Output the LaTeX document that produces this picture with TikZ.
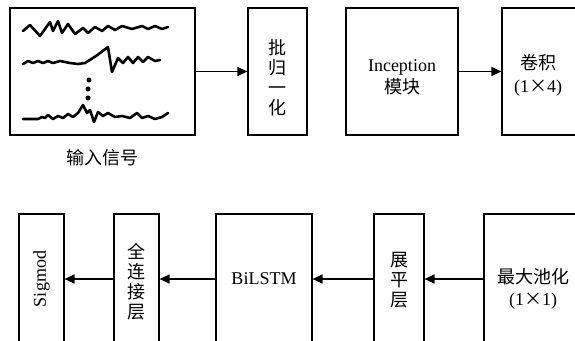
\documentclass[tikz,border=0pt]{standalone}
\usepackage{fontspec}
\setmainfont{Liberation Serif}
\newfontfamily\cjk{Noto Sans CJK SC}
\usetikzlibrary{arrows.meta,positioning}
\newcommand\gross{\fontsize{18pt}{20pt}\selectfont}
\tikzset{
  kasten/.style={draw,line width=1.2pt,inner sep=0pt},
  txt/.style={font=\gross,align=center,inner sep=0pt},
  cjktxt/.style={font=\gross\cjk,align=center,inner sep=0pt},
  welle/.style={line width=2.6pt,line join=round,line cap=round},
  pfeil/.style={line width=1.3pt,->,>={Triangle[length=10pt,width=9pt]}},
}
\begin{document}
\begin{tikzpicture}[x=1pt,y=-1pt]
\useasboundingbox (0,0) rectangle (575,340);
\clip (0,0) rectangle (575,340);

%Eingang
\node[kasten,minimum width=185pt,minimum height=127pt] (input) at (102.5,71.5) {};
\node[cjktxt,below=14pt of input] (inputlbl) {输入信号};
\draw[welle] plot[tension=0.4] coordinates {(23,31) (30,25) (40,36) (50,22) (53,31) (58,21) (62,33) (68,24) (75,34) (83,28) (88,33) (95,27) (102,31) (108,26) (115,30) (122,26) (132,29) (142,26) (148,29) (155,26) (162,29) (168,27)};
\draw[welle] plot[tension=0.4] coordinates {(23,64) (28,61) (33,63) (38,61) (43,63) (48,61) (53,63) (60,61) (70,63) (78,64) (85,63) (96,56) (108,47) (112,72) (118,58) (123,63) (128,57) (133,63) (138,57) (143,62) (148,57) (155,61) (160,60)};
\foreach \p in {(89,80),(88,89),(88,98)}{
\fill \p circle (2.5pt);
}
\draw[welle] plot[tension=0.4] coordinates {(23,119) (38,119) (42,117) (45,118) (48,115) (53,119) (58,116) (63,118) (68,114) (73,117) (78,113) (83,105) (87,113) (90,110) (94,122) (98,112) (103,116) (108,113) (115,117) (122,116) (130,118) (137,113) (142,118) (148,116) (155,119) (162,117) (168,113)};

%obere Reihe
\node[kasten,minimum width=59pt,minimum height=127pt] (bn) at (277.5,71.5) {};
\node[cjktxt] (bntxt) at ([yshift=-6pt]bn.center) {批\\归\\一\\化};
\node[kasten,minimum width=112pt,minimum height=127pt] (incep) at (402,71.5) {};
\node[txt] (inceptxt) at ([yshift=-6pt]incep.center) {Inception\\[2pt]{\cjk 模块}};
\node[kasten,minimum width=76pt,minimum height=127pt] (conv) at (540,71.5) {};
\node[txt] (convtxt) at ([xshift=-2pt,yshift=-4pt]conv.center) {{\cjk 卷积}\\[3pt](1{\cjk ×}4)};

\draw[pfeil] (input) -- (bn);
\draw[pfeil] (incep) -- (conv);

%untere Reihe
\node[kasten,minimum width=45pt,minimum height=130pt] (sig) at (41.5,279) {};
\node[txt,rotate=90] (sigtxt) at (sig.center) {Sigmod};
\node[kasten,minimum width=45pt,minimum height=130pt] (fc) at (136.5,279) {};
\node[cjktxt] (fctxt) at ([yshift=-3pt]fc.center) {全\\连\\接\\层};
\node[kasten,minimum width=96pt,minimum height=130pt] (bilstm) at (264,279) {};
\node[txt] (bilstmtxt) at (bilstm.center) {BiLSTM};
\node[kasten,minimum width=50pt,minimum height=130pt] (flat) at (399,279) {};
\node[cjktxt] (flattxt) at ([yshift=-1pt]flat.center) {展\\平\\层};
\node[kasten,minimum width=98pt,minimum height=130pt] (pool) at (533,279) {};
\node[txt] (pooltxt) at ([yshift=-10pt]pool.center) {{\cjk 最大池化}\\[2pt](1{\cjk ×}1)};

\draw[pfeil] (pool) -- (flat);
\draw[pfeil] (flat) -- (bilstm);
\draw[pfeil] (bilstm) -- (fc);
\draw[pfeil] (fc) -- (sig);

\end{tikzpicture}
\end{document}
